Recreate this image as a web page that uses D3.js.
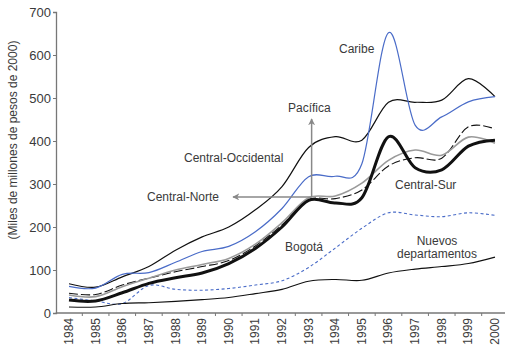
<!DOCTYPE html>
<html>
<head>
<meta charset="utf-8">
<script src="https://cdn.jsdelivr.net/npm/d3@7"></script>
<style>
  body { margin: 0; background: #fff; }
  svg text { font-family: "Liberation Sans", Arial, sans-serif; fill: #3a3a3a; }
</style>
</head>
<body>
<svg id="chart" width="505" height="354"></svg>
<script>
// Regional GDP series, miles de millones de pesos de 2000
const years = ["1984","1985","1986","1987","1988","1989","1990","1991","1992",
               "1993","1994","1995","1996","1997","1998","1999","2000"];
const yTicks = [0, 100, 200, 300, 400, 500, 600, 700];

const caribe            = [62, 58, 90, 94, 118, 143, 155, 189, 243, 317, 318, 347, 652, 437, 456, 491, 503];
const centralOccidental = [68, 60, 84, 108, 146, 177, 200, 240, 294, 385, 410, 402, 490, 490, 495, 545, 503];
const pacifica          = [42, 38, 61, 81, 100, 113, 127, 160, 210, 268, 272, 302, 355, 379, 367, 409, 395];
const centralNorte      = [46, 43, 65, 81, 96, 108, 122, 156, 205, 263, 266, 286, 342, 361, 360, 433, 428];
const centralSur        = [30, 28, 47, 69, 82, 93, 115, 150, 200, 262, 256, 268, 410, 338, 333, 388, 402];
const bogota            = [36, 28, 22, 64, 55, 53, 57, 65, 75, 106, 151, 197, 233, 228, 224, 233, 227];
const nuevos            = [14, 14, 22, 24, 27, 31, 36, 45, 55, 74, 78, 76, 93, 102, 108, 115, 130];

const series = [
  { name: "Bogotá",               values: bogota,            stroke: "#4a6cc8", width: 1.1, dash: "3,2.5" },
  { name: "Nuevos departamentos", values: nuevos,            stroke: "#111",    width: 1.1, dash: null },
  { name: "Central-Norte",        values: centralNorte,      stroke: "#111",    width: 1.1, dash: "9,3" },
  { name: "Pacífica",             values: pacifica,          stroke: "#9a9a9a", width: 1.6, dash: null },
  { name: "Central-Sur",          values: centralSur,        stroke: "#111",    width: 3,   dash: null },
  { name: "Central-Occidental",   values: centralOccidental, stroke: "#111",    width: 1.2, dash: null },
  { name: "Caribe",               values: caribe,            stroke: "#4a6cc8", width: 1.2, dash: null }
];

const svg = d3.select("#chart");

const xBand = d3.scaleBand().domain(years).range([55.7, 508.3]);
const xc = yr => xBand(yr) + xBand.bandwidth() / 2;
const y = d3.scaleLinear().domain([0, 700]).range([313, 12]);

// Y axis
const yAxis = svg.append("g")
  .attr("transform", "translate(56,0)")
  .call(d3.axisLeft(y).tickValues(yTicks).tickSize(3).tickPadding(2).tickFormat(d3.format("d")));
yAxis.select(".domain").attr("stroke", "#777").attr("stroke-width", 1.3);
yAxis.selectAll(".tick line").attr("stroke", "#777");
yAxis.selectAll(".tick text").attr("font-size", 13).style("fill", "#3a3a3a");

// X axis: baseline, ticks between categories, rotated year labels
const xAxis = svg.append("g").attr("transform", "translate(0,313)");
xAxis.append("line")
  .attr("x1", 55.7).attr("x2", 508.3)
  .attr("stroke", "#777").attr("stroke-width", 1.3);
xAxis.selectAll("line.tk")
  .data(years.slice(1))
  .join("line")
  .attr("class", "tk")
  .attr("x1", d => xBand(d)).attr("x2", d => xBand(d))
  .attr("y1", 0).attr("y2", 3)
  .attr("stroke", "#777");
xAxis.selectAll("text")
  .data(years)
  .join("text")
  .attr("transform", d => `translate(${xc(d) + 4},5) rotate(-90)`)
  .attr("text-anchor", "end")
  .attr("font-size", 12)
  .text(d => d);

// Y axis title
svg.append("text")
  .attr("transform", "translate(17,140) rotate(-90)")
  .attr("text-anchor", "middle")
  .attr("font-size", 12)
  .text("(Miles de millones de pesos de 2000)");

// Series lines
const line = d3.line()
  .x((d, i) => xc(years[i]))
  .y(d => y(d))
  .curve(d3.curveCardinal.tension(0));

svg.append("g").selectAll("path")
  .data(series)
  .join("path")
  .attr("d", d => line(d.values))
  .attr("fill", "none")
  .attr("stroke", d => d.stroke)
  .attr("stroke-width", d => d.width)
  .attr("stroke-dasharray", d => d.dash)
  .attr("stroke-linejoin", "round");

// Pointer arrows for Pacífica and Central-Norte, from their shared 1993 point
const defs = svg.append("defs");
defs.append("marker")
  .attr("id", "head")
  .attr("viewBox", "0 0 10 10")
  .attr("refX", 9).attr("refY", 5)
  .attr("markerWidth", 7).attr("markerHeight", 7)
  .attr("orient", "auto-start-reverse")
  .attr("markerUnits", "userSpaceOnUse")
  .append("path")
  .attr("d", "M0,0 L10,5 L0,10 L3,5 Z")
  .attr("fill", "#888");

const ax = xc("1993") + 3, ay = y(270);
svg.append("line")
  .attr("x1", ax).attr("y1", ay).attr("x2", ax).attr("y2", 119)
  .attr("stroke", "#888").attr("stroke-width", 1.5)
  .attr("marker-end", "url(#head)");
svg.append("line")
  .attr("x1", ax).attr("y1", ay).attr("x2", 233).attr("y2", ay)
  .attr("stroke", "#888").attr("stroke-width", 1.5)
  .attr("marker-end", "url(#head)");

// Region labels
const labels = [
  { t: "Caribe",             x: 339, y: 53,  a: "start" },
  { t: "Pacífica",           x: 288, y: 112, a: "start" },
  { t: "Central-Occidental", x: 184, y: 162, a: "start" },
  { t: "Central-Norte",      x: 147, y: 201, a: "start" },
  { t: "Central-Sur",        x: 395, y: 189, a: "start" },
  { t: "Bogotá",             x: 285, y: 251, a: "start" },
  { t: "Nuevos",             x: 437, y: 245, a: "middle" },
  { t: "departamentos",      x: 437, y: 258, a: "middle" }
];
svg.append("g").selectAll("text")
  .data(labels)
  .join("text")
  .attr("x", d => d.x).attr("y", d => d.y)
  .attr("text-anchor", d => d.a)
  .attr("font-size", 12)
  .text(d => d.t);
</script>
</body>
</html>
